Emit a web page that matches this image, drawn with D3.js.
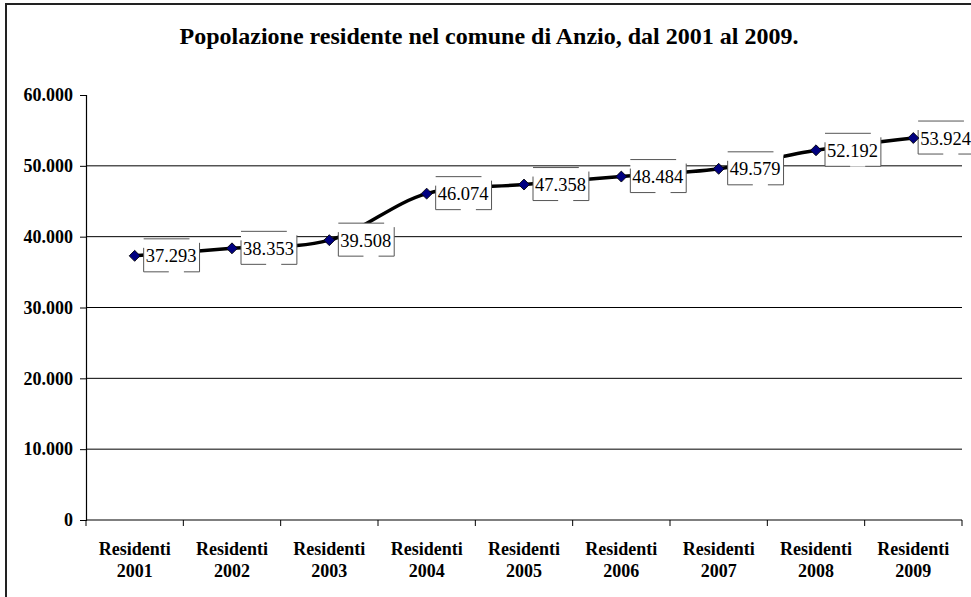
<!DOCTYPE html>
<html>
<head>
<meta charset="utf-8">
<script src="https://cdn.jsdelivr.net/npm/d3@7"></script>
<style>
  html, body { margin: 0; padding: 0; background: #fff; }
  svg { display: block; }
</style>
</head>
<body>
<svg id="chart" width="971" height="597"></svg>
<script>
// Data
const categories = ["2001", "2002", "2003", "2004", "2005", "2006", "2007", "2008", "2009"];
const residents = [37293, 38353, 39508, 46074, 47358, 48484, 49579, 52192, 53924];
const yTicks = [0, 10000, 20000, 30000, 40000, 50000, 60000];
const title = "Popolazione residente nel comune di Anzio, dal 2001 al 2009.";

const fontFamily = "'Liberation Serif', 'Times New Roman', serif";
const margin = { top: 95, right: 9, bottom: 77, left: 86 };
const W = 971, H = 597;
const width = W - margin.left - margin.right;
const height = H - margin.top - margin.bottom;

const svg = d3.select("#chart");

// Outer frame (only top/left edges fall inside the picture)
svg.append("rect")
  .attr("x", 6).attr("y", 4)
  .attr("width", 1200).attr("height", 1200)
  .attr("fill", "none")
  .attr("stroke", "#222")
  .attr("stroke-width", 2);

// Title
svg.append("text")
  .attr("x", 489)
  .attr("y", 44)
  .attr("text-anchor", "middle")
  .attr("font-family", fontFamily)
  .attr("font-size", "24px")
  .attr("font-weight", "bold")
  .text(title);

const g = svg.append("g")
  .attr("transform", `translate(${margin.left}, ${margin.top})`);

// Scales
const xScale = d3.scaleBand()
  .domain(categories)
  .range([0, width]);

const yScale = d3.scaleLinear()
  .domain([0, 60000])
  .range([height, 0]);

const fmt = v => d3.format(",")(v).replace(/,/g, ".");

// Gridlines (not at 0 or 60.000)
g.append("g")
  .selectAll("line")
  .data(yTicks.filter(t => t > 0 && t < 60000))
  .enter()
  .append("line")
  .attr("x1", 0)
  .attr("x2", width)
  .attr("y1", d => yScale(d))
  .attr("y2", d => yScale(d))
  .attr("stroke", "#000")
  .attr("stroke-width", 1);

// Y axis
const yAxis = g.append("g")
  .call(d3.axisLeft(yScale).tickValues(yTicks).tickSize(6).tickPadding(7).tickFormat(fmt));
yAxis.select(".domain").attr("stroke", "#000").attr("stroke-width", 1.2);
yAxis.selectAll(".tick line").attr("stroke", "#000");
yAxis.selectAll("text")
  .attr("font-family", fontFamily)
  .attr("font-size", "18px")
  .attr("font-weight", "bold")
  .attr("fill", "#000");

// X axis: line plus ticks at category boundaries
g.append("line")
  .attr("x1", 0).attr("x2", width)
  .attr("y1", height).attr("y2", height)
  .attr("stroke", "#000").attr("stroke-width", 1.2);

const boundaries = categories.map(c => xScale(c)).concat([xScale.range()[1]]);
g.append("g")
  .selectAll("line")
  .data(boundaries)
  .enter()
  .append("line")
  .attr("x1", d => d).attr("x2", d => d)
  .attr("y1", height).attr("y2", height + 6)
  .attr("stroke", "#000");

const xLabels = g.append("g")
  .selectAll("text")
  .data(categories)
  .enter()
  .append("text")
  .attr("x", d => xScale(d) + xScale.bandwidth() / 2)
  .attr("y", height + 35)
  .attr("text-anchor", "middle")
  .attr("font-family", fontFamily)
  .attr("font-size", "18px")
  .attr("font-weight", "bold");
xLabels.append("tspan")
  .attr("x", d => xScale(d) + xScale.bandwidth() / 2)
  .text("Residenti");
xLabels.append("tspan")
  .attr("x", d => xScale(d) + xScale.bandwidth() / 2)
  .attr("dy", 22)
  .text(d => d);

// Smoothed line
const pts = categories.map((c, i) => ({ cat: c, val: residents[i] }));
const cx = d => xScale(d.cat) + xScale.bandwidth() / 2;
const cy = d => yScale(d.val);

g.append("path")
  .datum(pts)
  .attr("fill", "none")
  .attr("stroke", "#000")
  .attr("stroke-width", 3.5)
  .attr("d", d3.line().x(cx).y(cy).curve(d3.curveCatmullRom));

// Data labels with the broken Excel-style frames
const labels = g.append("g")
  .selectAll("g")
  .data(pts)
  .enter()
  .append("g");

labels.append("rect").attr("class", "bg").attr("fill", "#fff");
labels.append("text")
  .attr("x", 2)
  .attr("y", 0)
  .attr("dy", "0.35em")
  .attr("font-family", fontFamily)
  .attr("font-size", "18.5px")
  .attr("fill", "#000")
  .text(d => fmt(d.val));

labels.each(function (d) {
  const sel = d3.select(this);
  const w = sel.select("text").node().getComputedTextLength() + 5;
  // keep the label inside the picture (right edge)
  const maxLeft = W - margin.left - w + 3;
  const left = Math.min(cx(d) + 9, maxLeft);
  sel.attr("transform", `translate(${left}, ${cy(d)})`);
  const yt = -17, yb = 16;
  sel.select("rect.bg")
    .attr("x", 0).attr("y", yt)
    .attr("width", w).attr("height", yb - yt);
  const segs = [
    [0, yt, w * 0.82, yt],
    [0, yt + 9, 0, yb],
    [w, yt + 4, w, yb],
    [0, yb, w * 0.45, yb],
    [w * 0.72, yb, w, yb]
  ];
  sel.selectAll("line")
    .data(segs)
    .enter()
    .append("line")
    .attr("x1", s => s[0]).attr("y1", s => s[1])
    .attr("x2", s => s[2]).attr("y2", s => s[3])
    .attr("stroke", "#555")
    .attr("stroke-width", 1);
});

// Diamond markers
g.append("g")
  .selectAll("path")
  .data(pts)
  .enter()
  .append("path")
  .attr("d", d3.symbol(d3.symbolSquare, 60))
  .attr("transform", d => `translate(${cx(d)}, ${cy(d)}) rotate(45)`)
  .attr("fill", "#000080")
  .attr("stroke", "#000")
  .attr("stroke-width", 0.8);
</script>
</body>
</html>
